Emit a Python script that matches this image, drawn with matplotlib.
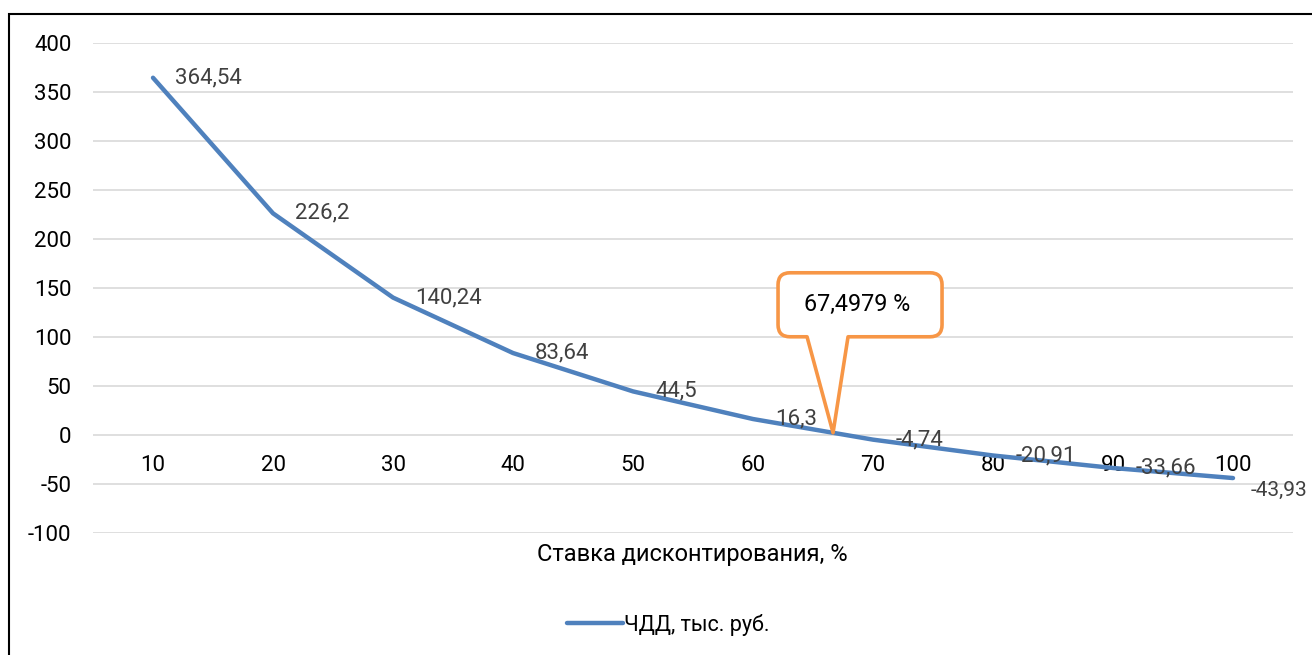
import matplotlib
matplotlib.use("Agg")
import matplotlib.pyplot as plt
import numpy as np
from matplotlib.path import Path
from matplotlib.patches import PathPatch, Rectangle
from matplotlib.transforms import ScaledTranslation
from matplotlib.lines import Line2D

plt.rcParams['font.family'] = ['Roboto', 'DejaVu Sans']

# ---- data ----
rates = [10, 20, 30, 40, 50, 60, 70, 80, 90, 100]
npv = [364.54, 226.2, 140.24, 83.64, 44.5, 16.3, -4.74, -20.91, -33.66, -43.93]
npv_labels = ["364,54", "226,2", "140,24", "83,64", "44,5", "16,3", "-4,74", "-20,91", "-33,66", "-43,93"]
irr_label = "67,4979 %"
y_ticks = [-100, -50, 0, 50, 100, 150, 200, 250, 300, 350, 400]
series_name = "ЧДД, тыс. руб."
x_title = "Ставка дисконтирования, %"

W, H = 1312, 655
fig = plt.figure(figsize=(W / 100, H / 100), dpi=100)
ax = fig.add_axes([93 / W, 1 - 533 / H, 1200 / W, 490 / H])

line_color = "#4F81BD"
orange = "#F79646"

x = np.arange(len(rates))
ax.plot(x, npv, color=line_color, lw=3.2, solid_capstyle='round', zorder=3)

ax.set_xlim(-0.5, len(rates) - 0.5)
ax.set_ylim(-100, 400)
ax.set_yticks(y_ticks)
ax.set_yticklabels([str(v) for v in y_ticks])
ax.yaxis.grid(True, color="#D9D9D9", lw=1.2)
ax.set_axisbelow(True)
for s in ax.spines.values():
    s.set_visible(False)
ax.spines['bottom'].set_position(('data', 0))
ax.set_xticks(x)
ax.set_xticklabels([str(r) for r in rates])
ax.tick_params(axis='x', length=0, pad=14.5, labelsize=16, colors='black')
ax.tick_params(axis='y', length=0, pad=15.5, labelsize=16, colors='black')

# data labels (the last one is pushed down/left by the chart edge, as in the original)
n = len(npv)
for i, (xi, yi, lab) in enumerate(zip(x, npv, npv_labels)):
    last = i == n - 1
    off = (13, -9) if last else (16, 0)
    ax.annotate(lab, (xi, yi), xytext=off, textcoords='offset points',
                ha='left', va='center', fontsize=15 if last else 16, color='#404040',
                annotation_clip=False, zorder=4)

# callout
tip_x = 5.667
tip_y = float(np.interp(tip_x, x, npv))
trans = fig.dpi_scale_trans + ScaledTranslation(tip_x, tip_y, ax.transData)
L, R, T, B = -55, 109, 160, 96
bl, br = -26, 15
r = 12
verts = []
codes = []
def add(pt, code):
    verts.append((pt[0] / 100, pt[1] / 100))
    codes.append(code)
add((0, 0), Path.MOVETO)
add((br, B), Path.LINETO)
add((R - r, B), Path.LINETO)
add((R, B), Path.CURVE3); add((R, B + r), Path.CURVE3)
add((R, T - r), Path.LINETO)
add((R, T), Path.CURVE3); add((R - r, T), Path.CURVE3)
add((L + r, T), Path.LINETO)
add((L, T), Path.CURVE3); add((L, T - r), Path.CURVE3)
add((L, B + r), Path.LINETO)
add((L, B), Path.CURVE3); add((L + r, B), Path.CURVE3)
add((bl, B), Path.LINETO)
add((0, 0), Path.CLOSEPOLY)
callout = PathPatch(Path(verts, codes), transform=trans, facecolor='white',
                    edgecolor=orange, lw=2.6, joinstyle='round', zorder=5, clip_on=False)
ax.add_patch(callout)
ax.text(24 / 100, 128 / 100, irr_label, transform=trans, ha='center', va='center',
        fontsize=16.8, color='black', zorder=6)

# axis title
fig.text(692 / W, 1 - 554 / H, x_title, ha='center', va='center', fontsize=17)

# legend
fig.legend(handles=[Line2D([], [], color=line_color, lw=3.2, solid_capstyle='round')],
           labels=[series_name], loc='center', bbox_to_anchor=(668 / W, 1 - 625 / H),
           frameon=False, fontsize=15.5, handlelength=2.6, handletextpad=0.05)

# outer border
fig.patches.append(Rectangle((9 / W, -0.1), 1.2, 1 - 14 / H + 0.1, transform=fig.transFigure,
                             fill=False, edgecolor='black', lw=1.5))

fig.savefig("out.png", dpi=100)
